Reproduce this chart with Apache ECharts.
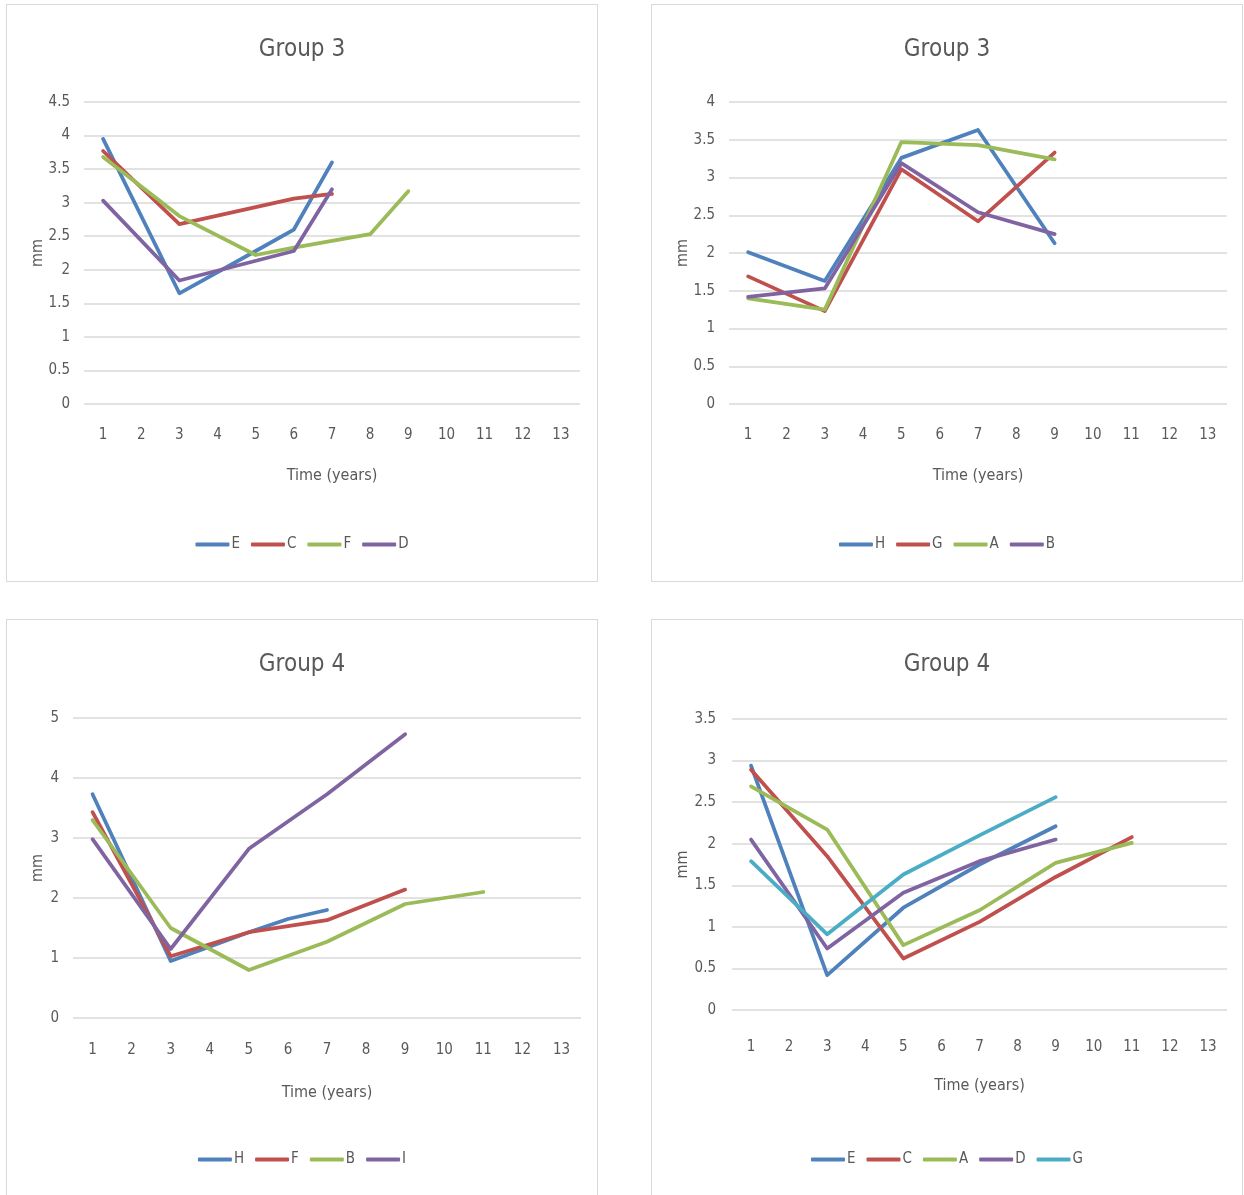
<!DOCTYPE html>
<html>
<head>
<meta charset="utf-8">
<script src="https://cdn.jsdelivr.net/npm/echarts@6/dist/echarts.min.js"></script>
<style>
  body { margin: 0; background: #fff; width: 1244px; height: 1195px; overflow: hidden; position: relative; }
  .box { position: absolute; width: 590px; height: 576px; border: 1px solid #d9d9d9; background: #fff; }
</style>
</head>
<body>
<div id="c1" class="box" style="left: 6px; top: 4px;"></div>
<div id="c2" class="box" style="left: 651px; top: 4px;"></div>
<div id="c3" class="box" style="left: 6px; top: 619px;"></div>
<div id="c4" class="box" style="left: 651px; top: 619px;"></div>
<script>
const years = ['1', '2', '3', '4', '5', '6', '7', '8', '9', '10', '11', '12', '13']

// Group 3 (left)
const g3aNames = ['E', 'C', 'F', 'D']
const g3aE = [3.95, null, 1.65, null, 2.28, 2.6, 3.6]
const g3aC = [3.77, null, 2.68, null, null, 3.06, 3.13]
const g3aF = [3.68, null, 2.8, null, 2.22, 2.33, null, 2.53, 3.17]
const g3aD = [3.03, null, 1.84, null, null, 2.28, 3.2]

// Group 3 (right)
const g3bNames = ['H', 'G', 'A', 'B']
const g3bH = [2.01, null, 1.63, null, 3.26, null, 3.63, null, 2.13]
const g3bG = [1.69, null, 1.23, null, 3.11, null, 2.42, null, 3.33]
const g3bA = [1.4, null, 1.25, null, 3.47, null, 3.43, null, 3.24]
const g3bB = [1.42, null, 1.53, null, 3.19, null, 2.54, null, 2.25]

// Group 4 (left)
const g4aNames = ['H', 'F', 'B', 'I']
const g4aH = [3.73, null, 0.95, null, 1.43, 1.65, 1.8]
const g4aF = [3.43, null, 1.03, null, 1.43, null, 1.63, null, 2.14]
const g4aB = [3.3, null, 1.5, null, 0.8, null, 1.27, null, 1.9, null, 2.1]
const g4aI = [2.98, null, 1.15, null, 2.82, null, 3.73, null, 4.73]

// Group 4 (right)
const g4bNames = ['E', 'C', 'A', 'D', 'G']
const g4bE = [2.94, null, 0.42, null, 1.23, null, 1.75, null, 2.21]
const g4bC = [2.89, null, 1.85, null, 0.62, null, 1.06, null, 1.6, null, 2.08]
const g4bA = [2.69, null, 2.17, null, 0.78, null, 1.2, null, 1.77, null, 2.01]
const g4bD = [2.05, null, 0.74, null, 1.41, null, 1.79, null, 2.05]
const g4bG = [1.79, null, 0.91, null, 1.63, null, 2.1, null, 2.56]

const palette = ['#4f81bd', '#c0504d', '#9bbb59', '#8064a2', '#4bacc6']
const font = "'Liberation Sans Narrow', 'DejaVu Sans Condensed', sans-serif"
const textColor = '#595959'

function makeChart(id, title, yMax, yStep, names, lists, grid, gaps) {
  const chart = echarts.init(document.getElementById(id))
  chart.setOption({
    animation: false,
    textStyle: { fontFamily: font },
    color: palette,
    title: {
      text: title,
      left: 'center',
      top: 28,
      textStyle: { fontFamily: font, fontSize: 24, fontWeight: 'normal', color: textColor },
    },
    legend: {
      data: names,
      bottom: gaps.legend,
      left: 'center',
      icon: 'roundRect',
      itemWidth: 34,
      itemHeight: 4,
      itemGap: 11,
      textStyle: { fontFamily: font, fontSize: 15, color: textColor, padding: [0, 0, 0, -3] },
    },
    grid: Object.assign({ containLabel: false }, grid),
    xAxis: {
      type: 'category',
      data: years,
      name: 'Time (years)',
      nameLocation: 'middle',
      nameGap: gaps.xName,
      nameMoveOverlap: false,
      nameTextStyle: { fontFamily: font, fontSize: 16, color: textColor },
      axisLine: { show: false },
      axisTick: { show: false },
      axisLabel: { margin: gaps.xLabel, fontSize: 15, color: textColor, fontFamily: font },
    },
    yAxis: {
      type: 'value',
      min: 0,
      max: yMax,
      interval: yStep,
      name: 'mm',
      nameLocation: 'middle',
      nameGap: gaps.yName,
      nameMoveOverlap: false,
      nameTextStyle: { fontFamily: font, fontSize: 16, color: textColor },
      axisLabel: { margin: gaps.yLabel, fontSize: 15, color: textColor, fontFamily: font },
      splitLine: { lineStyle: { color: '#d9d9d9', width: 1.5 } },
    },
    series: names.map((n, i) => ({
      name: n,
      type: 'line',
      data: lists[i],
      connectNulls: true,
      showSymbol: false,
      symbol: 'none',
      lineStyle: { width: 3.75, cap: 'round', join: 'round' },
    })),
  })
}

makeChart('c1', 'Group 3', 4.5, 0.5, g3aNames, [g3aE, g3aC, g3aF, g3aD],
  { left: 77, right: 17, top: 97, bottom: 177 },
  { xLabel: 24, xName: 64, yLabel: 14, yName: 38, legend: 24 })
makeChart('c2', 'Group 3', 4, 0.5, g3bNames, [g3bH, g3bG, g3bA, g3bB],
  { left: 77, right: 15, top: 97, bottom: 177 },
  { xLabel: 24, xName: 64, yLabel: 14, yName: 38, legend: 24 })
makeChart('c3', 'Group 4', 5, 1, g4aNames, [g4aH, g4aF, g4aB, g4aI],
  { left: 66, right: 16, top: 98, bottom: 178 },
  { xLabel: 25, xName: 67, yLabel: 14, yName: 27, legend: 24 })
makeChart('c4', 'Group 4', 3.5, 0.5, g4bNames, [g4bE, g4bC, g4bA, g4bD, g4bG],
  { left: 80, right: 15, top: 99, bottom: 186 },
  { xLabel: 30, xName: 68, yLabel: 16, yName: 41, legend: 24 })
</script>
</body>
</html>
